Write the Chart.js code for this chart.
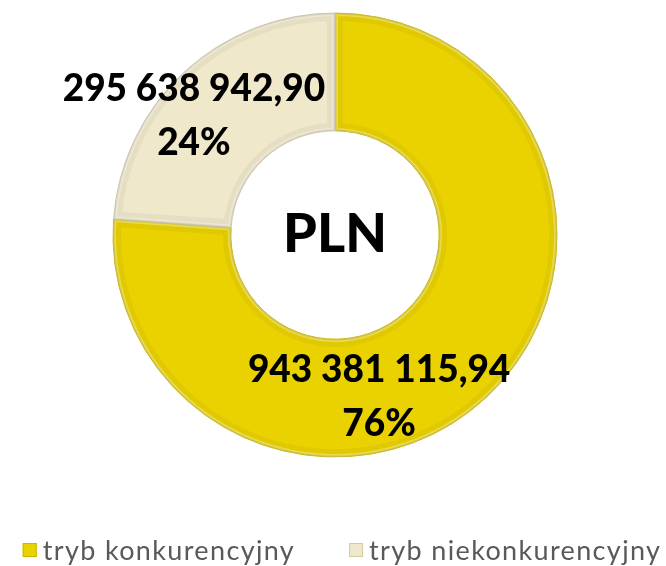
<!DOCTYPE html>
<html>
<head>
<meta charset="utf-8">
<script src="https://cdn.jsdelivr.net/npm/chart.js@4.4.1/dist/chart.umd.min.js"></script>
<style>
  html, body { margin: 0; padding: 0; background: #fff; }
  #wrap { width: 666px; height: 566px; }
</style>
</head>
<body>
<div id="wrap"><canvas id="donut" width="666" height="566"></canvas></div>
<script>
// dane
const categories = ['tryb konkurencyjny', 'tryb niekonkurencyjny'];
const amounts = [943381115.94, 295638942.90];
const centerLabel = 'PLN';

const sliceColors = ['#EAD200', '#EFE8CA'];
const edgeColors = ['#CDB600', '#D2CAA8'];
// przesunięcie etykiet względem środka wycinka (jak w Excelu)
const labelShift = [[-67, 43], [-30, 0]];

function formatPL(v) {
    const [int, dec] = v.toFixed(2).split('.');
    return int.replace(/\B(?=(\d{3})+(?!\d))/g, ' ') + ',' + dec;
}
const total = amounts.reduce((a, b) => a + b, 0);

// fazowanie krawędzi wycinków
const bevelPlugin = {
    id: 'bevel',
    afterDatasetDraw(chart) {
        const { ctx } = chart;
        chart.getDatasetMeta(0).data.forEach((arc) => {
            const p = arc.getProps(['x', 'y', 'startAngle', 'endAngle', 'innerRadius', 'outerRadius']);
            ctx.save();
            ctx.beginPath();
            ctx.arc(p.x, p.y, p.outerRadius, p.startAngle, p.endAngle);
            ctx.arc(p.x, p.y, p.innerRadius, p.endAngle, p.startAngle, true);
            ctx.closePath();
            ctx.clip();
            ctx.lineJoin = 'miter';
            ctx.strokeStyle = 'rgba(0,0,0,0.04)';
            ctx.lineWidth = 16;
            ctx.stroke();
            ctx.strokeStyle = 'rgba(255,255,255,0.3)';
            ctx.lineWidth = 6;
            ctx.stroke();
            ctx.strokeStyle = 'rgba(0,0,0,0.08)';
            ctx.lineWidth = 3;
            ctx.stroke();
            ctx.restore();
        });
    }
};

// etykiety danych, napis w środku i legenda
const textPlugin = {
    id: 'texts',
    afterDraw(chart) {
        const { ctx } = chart;
        const meta = chart.getDatasetMeta(0);
        ctx.save();
        ctx.fillStyle = '#000';
        ctx.textAlign = 'center';
        ctx.textBaseline = 'middle';

        meta.data.forEach((arc, i) => {
            const pos = arc.tooltipPosition();
            const x = pos.x + labelShift[i][0];
            const y = pos.y + labelShift[i][1];
            ctx.font = "900 37px 'Lato', sans-serif";
            ctx.fillText(formatPL(amounts[i]), x, y - 27);
            ctx.fillText(Math.round(amounts[i] / total * 100) + '%', x, y + 27);
        });

        const c = meta.data[0].getProps(['x', 'y']);
        ctx.font = "900 54px 'Lato', sans-serif";
        ctx.fillText(centerLabel, c.x, c.y);

        // legenda
        ctx.font = "27px 'Lato', sans-serif";
        ctx.letterSpacing = '1.35px';
        const box = 14, gap = 6, itemGap = 54;
        const widths = categories.map(t => box + gap + ctx.measureText(t).width);
        const full = widths.reduce((a, b) => a + b, 0) + itemGap * (categories.length - 1);
        let x = 342 - full / 2;
        const ly = 550;
        ctx.textAlign = 'left';
        categories.forEach((t, i) => {
            ctx.fillStyle = sliceColors[i];
            ctx.fillRect(x, ly - box / 2, box, box);
            ctx.strokeStyle = edgeColors[i];
            ctx.lineWidth = 1;
            ctx.strokeRect(x + 0.5, ly - box / 2 + 0.5, box - 1, box - 1);
            ctx.fillStyle = '#595959';
            ctx.fillText(t, x + box + gap, ly + 1);
            x += widths[i] + itemGap;
        });
        ctx.restore();
    }
};

new Chart(document.getElementById('donut'), {
    type: 'doughnut',
    data: {
        labels: categories,
        datasets: [{
            data: amounts,
            backgroundColor: sliceColors,
            borderColor: edgeColors,
            borderWidth: 1,
            radius: 222,
            cutout: 110
        }]
    },
    options: {
        responsive: false,
        animation: false,
        layout: { padding: { left: 4, top: 0, right: 0, bottom: 96 } },
        plugins: {
            legend: { display: false },
            tooltip: { enabled: false }
        }
    },
    plugins: [bevelPlugin, textPlugin]
});
</script>
</body>
</html>
